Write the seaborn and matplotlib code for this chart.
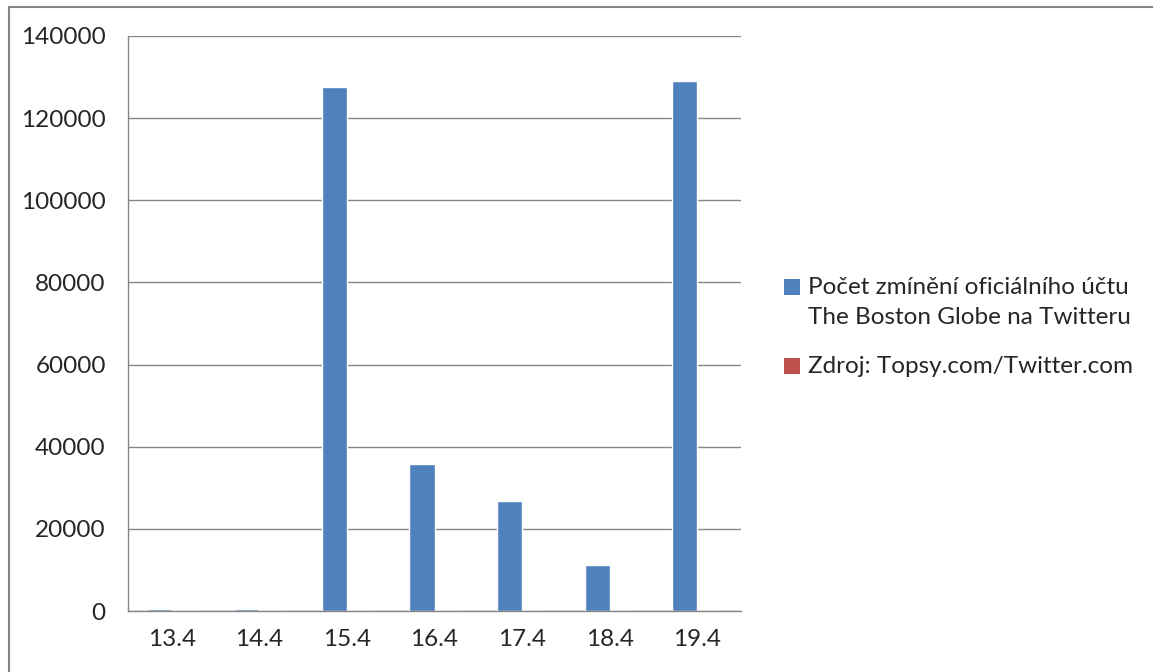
import numpy as np
import pandas as pd
import matplotlib
matplotlib.use("Agg")
from matplotlib import pyplot as plt
from matplotlib.patches import Rectangle
from matplotlib.lines import Line2D
import seaborn as sb

days = ["13.4", "14.4", "15.4", "16.4", "17.4", "18.4", "19.4"]
mentions = [500, 500, 127500, 35800, 26800, 11200, 129000]
source = [0, 0, 0, 0, 0, 0, 0]
series_names = ["Počet zmínění oficiálního účtu\nThe Boston Globe na Twitteru",
                "Zdroj: Topsy.com/Twitter.com"]
colors = ["#4F81BD", "#C0504D"]
yticks = [0, 20000, 40000, 60000, 80000, 100000, 120000, 140000]

df = pd.DataFrame({
    "day": days * 2,
    "value": mentions + source,
    "series": [series_names[0]] * len(days) + [series_names[1]] * len(days),
})

sb.set_style("white")
plt.rcParams['font.family'] = ['Lato', 'DejaVu Sans']
fs = 17.5
W, H = 1153, 672

fig = plt.figure(figsize=(11.53, 6.72), dpi=100)
ax = fig.add_axes([128 / W, 1 - 611 / H, (741 - 128) / W, (611 - 36) / H])

sb.barplot(data=df, x="day", y="value", hue="series", palette=colors,
           width=0.572, saturation=1, ax=ax, legend=False, errorbar=None)

gray = "#868686"
ax.set_ylim(0, 140000)
ax.set_xlim(-0.5, len(days) - 0.5)
ax.set_yticks(yticks)
ax.set_yticklabels([str(t) for t in yticks])
ax.yaxis.grid(True, color=gray, linewidth=1)
ax.set_axisbelow(True)
ax.set_xlabel("")
ax.set_ylabel("")
for s in ["top", "right"]:
    ax.spines[s].set_visible(False)
for s in ["left", "bottom"]:
    ax.spines[s].set_color(gray)
    ax.spines[s].set_linewidth(1)
ax.set_xticks(np.arange(-0.5, len(days), 1.0), minor=True)
ax.tick_params(axis="x", which="major", length=0, pad=13, labelsize=fs)
ax.tick_params(axis="x", which="minor", length=6, color=gray, width=1, direction="out")
ax.tick_params(axis="y", length=6, color=gray, width=1, direction="out", pad=10, labelsize=fs)

# legend drawn by hand so the square lines up with the first text line
legend_rows = [287, 366]
for name, c, yc in zip(series_names, colors, legend_rows):
    fig.add_artist(Rectangle((784 / W, 1 - (yc + 8) / H), 16 / W, 16 / H,
                             facecolor=c, edgecolor="none", transform=fig.transFigure))
    fig.text(808 / W, 1 - (yc - 10) / H, name, fontsize=fs, va="top", ha="left",
             linespacing=1.55)

# chart border (left and top edges visible)
fig.add_artist(Line2D([8.5 / W, 8.5 / W], [0, 1 - 6.5 / H], color=gray, linewidth=1.5))
fig.add_artist(Line2D([8.5 / W, 1], [1 - 6.5 / H, 1 - 6.5 / H], color=gray, linewidth=1.5))

fig.savefig("out.png", dpi=100)
